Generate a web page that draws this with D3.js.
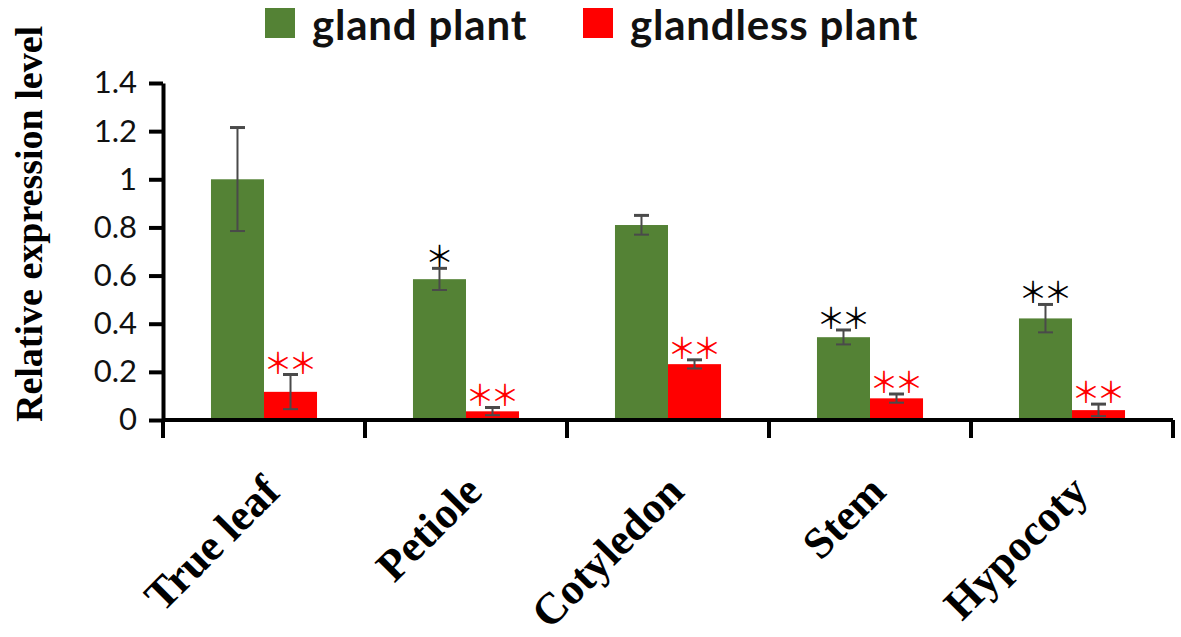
<!DOCTYPE html>
<html>
<head>
<meta charset="utf-8">
<script src="https://cdn.jsdelivr.net/npm/d3@7"></script>
<style>
  html, body { margin: 0; padding: 0; background: #ffffff; }
  svg { display: block; }
</style>
</head>
<body>
<script>
// ---- data ----
const categories = ["True leaf", "Petiole", "Cotyledon", "Stem", "Hypocoty"];
const seriesNames = ["gland plant", "glandless plant"];
const glandValues = [1.0, 0.585, 0.81, 0.344, 0.422];
const glandErrors = [0.215, 0.045, 0.04, 0.03, 0.058];
const glandlessValues = [0.117, 0.036, 0.232, 0.09, 0.041];
const glandlessErrors = [0.072, 0.016, 0.018, 0.018, 0.025];
const glandMarks = ["", "*", "", "**", "**"];
const glandlessMarks = ["**", "**", "**", "**", "**"];
const yTickValues = [0, 0.2, 0.4, 0.6, 0.8, 1, 1.2, 1.4];
const yTickLabels = ["0", "0.2", "0.4", "0.6", "0.8", "1", "1.2", "1.4"];
const yTitle = "Relative expression level";

// ---- layout / style ----
const W = 1181, H = 637;
const colors = ["#548235", "#ff0000"];
const markColors = ["#000000", "#ff0000"];
const errColor = "#4a4a4a";

const svg = d3.select("body").append("svg").attr("width", W).attr("height", H);
svg.append("rect").attr("width", W).attr("height", H).attr("fill", "#fff");

const x = d3.scaleBand().domain(categories).range([163, 1173])
  .paddingInner(0.475).paddingOuter(0.2375);
const xs = d3.scaleBand().domain(seriesNames).range([0, x.bandwidth()]);
const y = d3.scaleLinear().domain([0, 1.4]).range([420, 83]);

const rows = categories.map((c, i) => ({
  cat: c,
  items: [
    { s: seriesNames[0], v: glandValues[i], e: glandErrors[i], m: glandMarks[i], k: 0 },
    { s: seriesNames[1], v: glandlessValues[i], e: glandlessErrors[i], m: glandlessMarks[i], k: 1 }
  ]
}));

// bars
const g = svg.append("g");
const grp = g.selectAll("g.grp").data(rows).join("g")
  .attr("transform", d => `translate(${x(d.cat)},0)`);
grp.selectAll("rect").data(d => d.items).join("rect")
  .attr("x", d => xs(d.s))
  .attr("width", xs.bandwidth())
  .attr("y", d => y(d.v))
  .attr("height", d => y(0) - y(d.v))
  .attr("fill", d => colors[d.k]);

// error bars
const cap = 7.5;
const cx = d => xs(d.s) + xs.bandwidth() / 2;
const eb = grp.selectAll("g.eb").data(d => d.items).join("g").attr("class", "eb")
  .attr("stroke", errColor).attr("stroke-width", 2);
eb.append("line")
  .attr("x1", cx).attr("x2", cx)
  .attr("y1", d => y(Math.max(0, d.v - d.e))).attr("y2", d => y(d.v + d.e));
eb.append("line")
  .attr("x1", d => cx(d) - cap).attr("x2", d => cx(d) + cap)
  .attr("y1", d => y(d.v + d.e)).attr("y2", d => y(d.v + d.e)).attr("stroke-width", 3);
eb.append("line")
  .attr("x1", d => cx(d) - cap).attr("x2", d => cx(d) + cap)
  .attr("y1", d => y(Math.max(0, d.v - d.e))).attr("y2", d => y(Math.max(0, d.v - d.e)));

// significance marks
const starLS = -4;
grp.selectAll("text.mark").data(d => d.items.filter(it => it.m)).join("text").attr("class", "mark")
  .attr("x", d => cx(d) + starLS / 2)
  .attr("y", d => y(d.v + d.e) - 14)
  .attr("text-anchor", "middle")
  .attr("dominant-baseline", "central")
  .attr("letter-spacing", starLS)
  .attr("font-family", "'Noto Sans CJK SC', sans-serif")
  .attr("font-size", 29)
  .attr("fill", d => markColors[d.k])
  .text(d => d.m.replace(/\*/g, "\uFF0A"));

// y axis
const yAxis = d3.axisLeft(y).tickValues(yTickValues)
  .tickFormat((d, i) => yTickLabels[i]).tickSize(14).tickSizeOuter(0).tickPadding(12);
const ya = svg.append("g").attr("transform", "translate(163,0)").call(yAxis);
ya.select(".domain").attr("stroke", "#000").attr("stroke-width", 4);
ya.selectAll(".tick line").attr("stroke", "#000").attr("stroke-width", 4);
ya.selectAll(".tick text").attr("font-family", "Lato, 'Open Sans', sans-serif")
  .attr("font-size", 31).attr("fill", "#111");

// x axis (custom: boundary ticks)
const gap = (x.step() - x.bandwidth()) / 2;
const bounds = categories.map(c => x(c) - gap).concat([x(categories[categories.length - 1]) + x.bandwidth() + gap]);
const xa = svg.append("g");
xa.append("line").attr("x1", x.range()[0]).attr("x2", x.range()[1])
  .attr("y1", y(0)).attr("y2", y(0)).attr("stroke", "#000").attr("stroke-width", 4);
xa.selectAll("line.tk").data(bounds).join("line").attr("class", "tk")
  .attr("x1", d => d).attr("x2", d => d).attr("y1", y(0)).attr("y2", y(0) + 18)
  .attr("stroke", "#000").attr("stroke-width", 4);
xa.selectAll("text").data(categories).join("text")
  .attr("transform", d => `translate(${x(d) + x.bandwidth() / 2 + 18},${y(0) + 74}) rotate(-45)`)
  .attr("text-anchor", "end")
  .attr("font-family", "'Liberation Serif', 'Times New Roman', serif")
  .attr("font-weight", "bold")
  .attr("font-size", 44)
  .attr("fill", "#000")
  .text(d => d);

// y title
svg.append("text")
  .attr("transform", "translate(42,224) rotate(-90)")
  .attr("text-anchor", "middle")
  .attr("font-family", "'Liberation Serif', 'Times New Roman', serif")
  .attr("font-weight", "bold")
  .attr("font-size", 38)
  .attr("fill", "#000")
  .text(yTitle);

// legend
const legendX = [265, 583];
const lg = svg.append("g").selectAll("g").data(seriesNames).join("g")
  .attr("transform", (d, i) => `translate(${legendX[i]},8)`);
lg.append("rect").attr("width", 30).attr("height", 30).attr("fill", (d, i) => colors[i]);
lg.append("text").attr("x", 47).attr("y", 32)
  .attr("font-family", "Lato, 'Open Sans', sans-serif")
  .attr("font-weight", "bold")
  .attr("font-size", 42)
  .attr("letter-spacing", 0.8)
  .attr("fill", "#111")
  .text(d => d);
</script>
</body>
</html>
